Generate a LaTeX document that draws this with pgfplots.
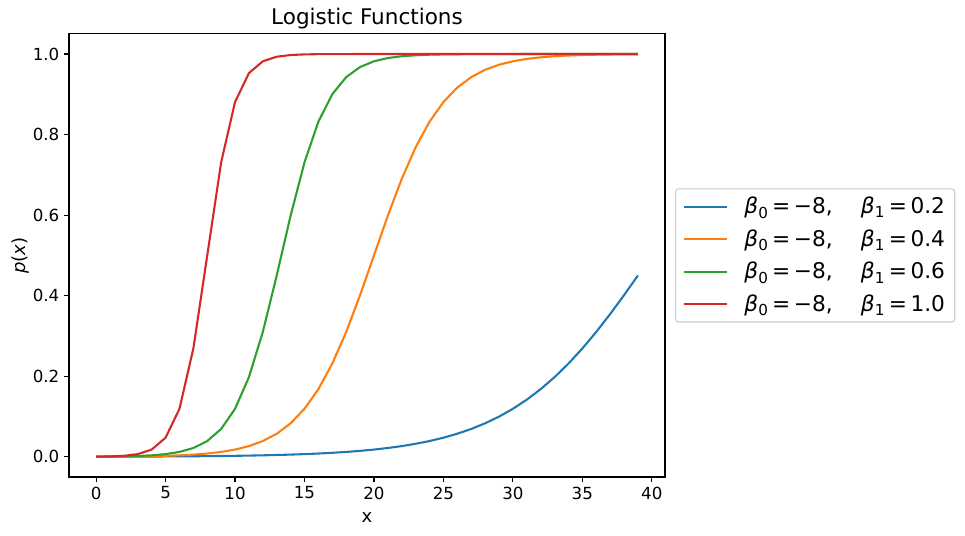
\documentclass[border=0pt]{standalone}
\usepackage{fontspec}
\setmainfont{DejaVu Sans}
\usepackage{pgfplots}
\usepackage{pgfplotstable}
\pgfplotsset{compat=1.18}

\definecolor{tabblue}{HTML}{1F77B4}
\definecolor{taborange}{HTML}{FF7F0E}
\definecolor{tabgreen}{HTML}{2CA02C}
\definecolor{tabred}{HTML}{D62728}

% p(x) = 1/(1+exp(-(b0+b1 x))), b0 = -8
\pgfplotstableread{
x   a         b         c         d
0   0.000335  0.000335  0.000335  0.000335
1   0.000410  0.000500  0.000611  0.000911
2   0.000500  0.000746  0.001113  0.002473
3   0.000611  0.001113  0.002025  0.006693
4   0.000746  0.001659  0.003684  0.017986
5   0.000911  0.002473  0.006693  0.047426
6   0.001113  0.003684  0.012128  0.119203
7   0.001359  0.005486  0.021881  0.268941
8   0.001659  0.008163  0.039166  0.500000
9   0.002025  0.012128  0.069138  0.731059
10  0.002473  0.017986  0.119203  0.880797
11  0.003018  0.026597  0.197816  0.952574
12  0.003684  0.039166  0.310026  0.982014
13  0.004496  0.057324  0.450166  0.993307
14  0.005486  0.083173  0.598688  0.997527
15  0.006693  0.119203  0.731059  0.999089
16  0.008163  0.167982  0.832018  0.999665
17  0.009952  0.231475  0.900250  0.999877
18  0.012128  0.310026  0.942676  0.999955
19  0.014774  0.401312  0.967705  0.999983
20  0.017986  0.500000  0.982014  0.999994
21  0.021881  0.598688  0.990048  0.999998
22  0.026597  0.689974  0.994514  0.999999
23  0.032295  0.768525  0.996982  1.000000
24  0.039166  0.832018  0.998341  1.000000
25  0.047426  0.880797  0.999089  1.000000
26  0.057324  0.916827  0.999500  1.000000
27  0.069138  0.942676  0.999726  1.000000
28  0.083173  0.960834  0.999849  1.000000
29  0.099750  0.973403  0.999917  1.000000
30  0.119203  0.982014  0.999955  1.000000
31  0.141851  0.987872  0.999975  1.000000
32  0.167982  0.991837  0.999986  1.000000
33  0.197816  0.994514  0.999992  1.000000
34  0.231475  0.996316  0.999996  1.000000
35  0.268941  0.997527  0.999998  1.000000
36  0.310026  0.998341  0.999999  1.000000
37  0.354344  0.998887  0.999999  1.000000
38  0.401312  0.999254  1.000000  1.000000
39  0.450166  0.999500  1.000000  1.000000
}\logistic

\newcommand{\lbl}[1]{\textit{β}\textsubscript{0}\,=\,−8,\hspace{1.3em}\textit{β}\textsubscript{1}\,=\,#1}

\begin{document}
\begin{tikzpicture}
\useasboundingbox (-49.7pt,-42.5pt) rectangle (645.1pt,343.4pt);
\begin{axis}[
    scale only axis,
    width=429.1pt, height=319pt,
    xmin=-1.95, xmax=40.95,
    ymin=-0.05, ymax=1.05,
    xtick={0,5,...,40},
    ytick={0,0.2,0.4,0.6,0.8,1.0},
    yticklabel style={/pgf/number format/.cd, fixed, fixed zerofill, precision=1},
    /pgf/number format/assume math mode=true,
    tick align=outside,
    major tick length=3.5pt,
    tick style={black, line width=0.8pt},
    axis line style={black, line width=0.8pt},
    xtick pos=bottom, ytick pos=left,
    ticklabel style={font=\fontsize{12}{14}\selectfont},
    title={Logistic Functions},
    title style={at={(0.5,1)}, anchor=base, yshift=1pt, font=\fontsize{15.5}{18}\selectfont},
    xlabel={x},
    xlabel style={at={(0.5,0)}, anchor=base, yshift=-33pt, font=\fontsize{13}{16}\selectfont},
    ylabel={\textit{p}(\textit{x})},
    ylabel style={at={(-0.082,0.5)}, anchor=center, font=\fontsize{13}{16}\selectfont},
    legend style={at={(1.017,0.5)}, anchor=west, draw=black!20, line width=0.8pt,
        rounded corners=2pt, fill=white, font=\fontsize{15.6}{19}\selectfont,
        inner xsep=5pt, inner ysep=4pt, row sep=6pt,
        nodes={inner sep=2pt},
        /tikz/every odd column/.append style={column sep=10pt}},
    legend cell align=left,
    legend image code/.code={\draw[#1, line width=1.5pt] (0pt,0pt) -- (31pt,0pt);},
]
\addplot[tabblue, line width=1.5pt] table[x=x, y=a] {\logistic};
\addlegendentry{\lbl{0.2}}
\addplot[taborange, line width=1.5pt] table[x=x, y=b] {\logistic};
\addlegendentry{\lbl{0.4}}
\addplot[tabgreen, line width=1.5pt] table[x=x, y=c] {\logistic};
\addlegendentry{\lbl{0.6}}
\addplot[tabred, line width=1.5pt] table[x=x, y=d] {\logistic};
\addlegendentry{\lbl{1.0}}
\end{axis}
\end{tikzpicture}
\end{document}
